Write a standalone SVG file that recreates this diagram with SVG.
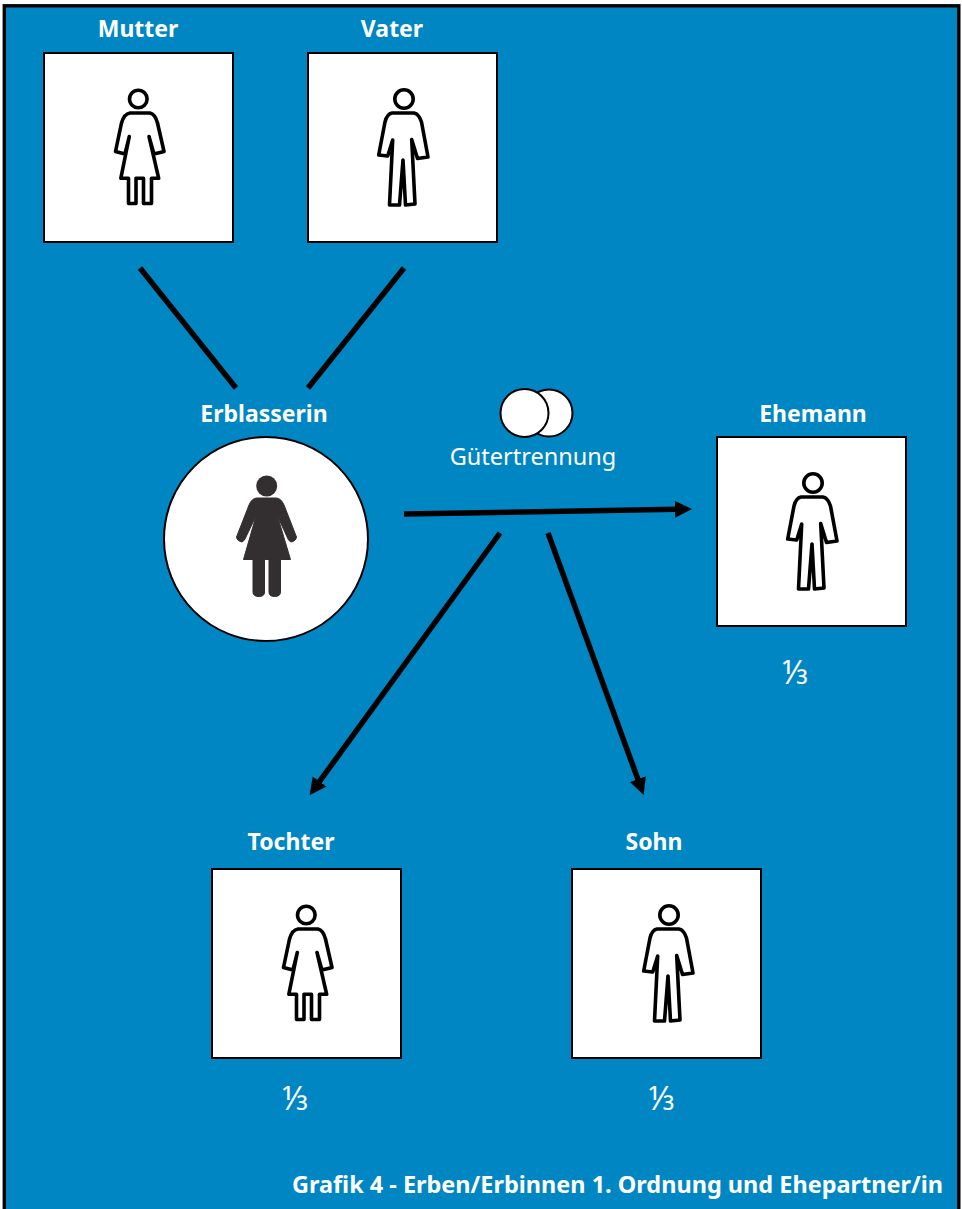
<svg xmlns="http://www.w3.org/2000/svg" xmlns:xlink="http://www.w3.org/1999/xlink" width="962" height="1209" viewBox="0 0 962 1209">
<style>
.box{fill:#fff;stroke:#000;stroke-width:2}
.fig{fill:#fff;stroke:#000;stroke-width:3.600;stroke-linejoin:round}
.lbl{font-family:"Noto Sans","Open Sans",sans-serif;font-weight:700;font-size:23px;fill:#fff;text-anchor:middle}
.reg{font-family:"Noto Sans","Open Sans",sans-serif;font-size:23.500px;fill:#fff;text-anchor:middle}
.frac{font-family:"Noto Sans","Open Sans",sans-serif;font-size:32px;fill:#fff;text-anchor:middle}
.line{stroke:#000;stroke-width:5.500;fill:none}
</style>
<defs>
<marker id="arr" markerUnits="userSpaceOnUse" markerWidth="20" markerHeight="20" refX="1" refY="9" orient="auto"><path d="M0 0.500L17 9L0 17.500Z" fill="#000"/></marker>
<g id="female"><circle cx="138.300" cy="99" r="8.800" class="fig"/><path class="fig" d="M130 113H150Q155 114 157.500 123L164 151.500L154 154L149 136.500L158.700 178.300H151.500V203.500H143.500V178.300H136V203.500H128.500V178.300H120.800L129.300 136.500L125 154L115.500 151.500L121.500 123Q124 114 130 113Z"/></g>
<g id="male"><circle cx="404" cy="99" r="9.200" class="fig"/><path class="fig" d="M392 113H414Q419 114 421.500 122L428 157L417.500 158.500L411.700 139.500L415 204L405.500 205L403 160L399.500 205L389.500 205L392.700 140L387.700 156L378.700 155L385 122Q387 114 392 113Z"/></g>
</defs>
<rect x="0" y="0" width="962" height="1209" fill="#fff"/>
<rect x="4.300" y="5.800" width="954.500" height="1210" fill="#0087c3" stroke="#000" stroke-width="3.400"/>
<g id="connectors">
<path class="line" d="M140 268L236 388"/>
<path class="line" d="M404 268L308 388"/>
<path class="line" marker-end="url(#arr)" d="M404 514L676 509.300"/>
<path class="line" marker-end="url(#arr)" d="M500 533L319 782.200"/>
<path class="line" marker-end="url(#arr)" d="M548 533L638.200 780"/>
</g>
<g id="mutter"><text class="lbl" x="138" y="37">Mutter</text><rect class="box" x="44" y="53" width="189" height="189"/><use xlink:href="#female" href="#female"/></g>
<g id="vater"><text class="lbl" x="392" y="37">Vater</text><rect class="box" x="308" y="53" width="189" height="189"/><use xlink:href="#male" href="#male"/></g>
<g id="erblasserin"><text class="lbl" x="264" y="422">Erblasserin</text><circle cx="266" cy="539" r="102" fill="#fff" stroke="#000" stroke-width="2"/>
<circle cx="266.700" cy="486" r="10.500" fill="#332e2f"/>
<path fill="#332e2f" stroke="#332e2f" stroke-width="1" stroke-linejoin="round" d="M257 498H276Q281 498 284 505L296.500 537Q296 541 291 542Q289 541 288 539L277.500 516L290.500 559.500H280.500V592Q280.500 596.500 274.500 596.500Q269 596.500 269 592V559.500H264.500V592Q264.500 596.500 259 596.500Q253 596.500 253 592V559.500H243.500L256 516L245 539Q244 541 242 542Q237 541 236.500 537L249 505Q252 498 257 498Z"/></g>
<g id="guetertrennung"><circle cx="549" cy="413" r="23.500" fill="#fff" stroke="#000" stroke-width="2"/><circle cx="524.500" cy="413" r="24" fill="#fff" stroke="#000" stroke-width="2"/><text class="reg" x="533" y="465">Gütertrennung</text></g>
<g id="ehemann"><text class="lbl" x="813" y="422">Ehemann</text><rect class="box" x="717" y="437" width="189" height="189"/><use xlink:href="#male" href="#male" x="409" y="384"/><text class="frac" x="795.500" y="684">⅓</text></g>
<g id="tochter"><text class="lbl" x="291" y="850">Tochter</text><rect class="box" x="212" y="869" width="189" height="189"/><use xlink:href="#female" href="#female" x="168" y="816"/><text class="frac" x="295.500" y="1110">⅓</text></g>
<g id="sohn"><text class="lbl" x="654" y="850">Sohn</text><rect class="box" x="572" y="869" width="189" height="189"/><use xlink:href="#male" href="#male" x="265" y="816"/><text class="frac" x="662" y="1110">⅓</text></g>
<text id="caption" x="943" y="1193" class="lbl" style="text-anchor:end;font-size:24px" textLength="651" lengthAdjust="spacingAndGlyphs">Grafik 4 - Erben/Erbinnen 1. Ordnung und Ehepartner/in</text>
</svg>
